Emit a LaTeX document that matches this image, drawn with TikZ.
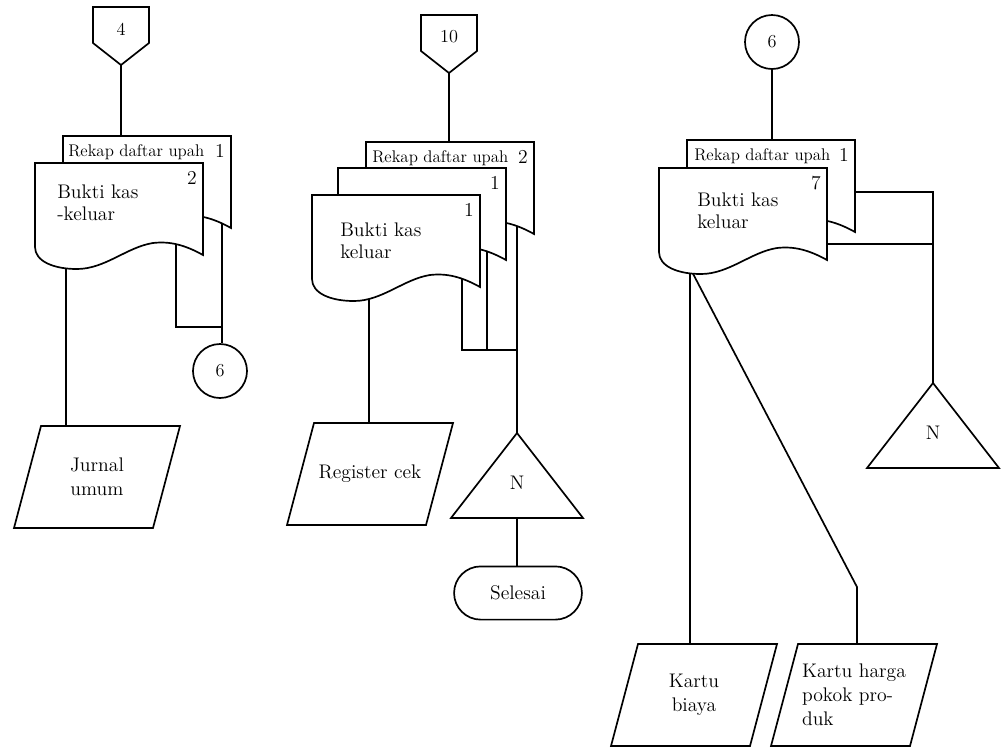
\documentclass[tikz,border=0pt]{standalone}
\usepackage{fontspec}
\usetikzlibrary{shapes.misc,backgrounds,calc}

\begin{document}
\begin{tikzpicture}[x=0.025cm, y=-0.025cm, line width=1.2pt,
    teks/.style={font=\fontsize{14}{16}\selectfont, inner sep=1pt, align=left},
    rekap/.style={font=\fontsize{12}{14}\selectfont, inner sep=1pt},
    konektor/.style={draw, circle, minimum size=1.35cm, inner sep=0pt, font=\fontsize{13}{15}\selectfont},
    terminal/.style={draw, rounded rectangle, minimum width=3.43cm, minimum height=1.33cm,
        font=\fontsize{14}{17}\selectfont},
    alur/.style={draw, line width=1.2pt},
    pics/dok/.style args={#1/#2/#3}{code={
        \draw[fill=white] (0,0) coordinate (-nw) -- (168,0) coordinate (-ne) -- (168,92)
            .. controls (150,82) and (135,78) .. (118,80)
            .. controls (92,84) and (70,106) .. (42,106)
            .. controls (18,106) and (0,98) .. (0,84) -- cycle;
        \node[teks] (-no) at (157,15) {#1};
        \coordinate (-out) at (#2,100);
        \coordinate (-kanan) at (#3,78);
    }},
    pics/jajar/.style 2 args={code={
        \draw (-56,-51) -- (83,-51) -- (56,51) -- (-83,51) -- cycle;
        \coordinate (-atas) at (0,-51);
        \node[font=\fontsize{14}{17}\selectfont, align=#1] (-teks) at (0,0) {#2};
    }},
    pics/offpage/.style={code={
        \draw (-28,0) -- (28,0) -- (28,36) -- (0,58) coordinate (-bawah) -- (-28,36) -- cycle;
        \node[font=\fontsize{13}{15}\selectfont] (-teks) at (0,22) {#1};
    }},
    pics/segitiga/.style={code={
        \draw[fill=white] (0,0) coordinate (-atas) -- (66,85) -- (-66,85) -- cycle;
        \coordinate (-bawah) at (0,85);
        \node[font=\fontsize{14}{16}\selectfont] (-teks) at (0,50) {N};
    }}
]
\useasboundingbox (0,0) rectangle (1005,752);

% Kolom kiri
\pic (kon4) at (121,7) {offpage=4};
\pic (kl1) at (63,136) {dok=1/0/159};
\node[rekap, anchor=west] (rekap1) at ($(kl1-nw)+(3,16)$) {Rekap daftar upah};
\pic (kl2) at (35,163) {dok=2/31/141};
\node[teks, anchor=west] (bukti1) at ($(kl2-nw)+(20,40)$) {Bukti kas\\-keluar};
\pic (jurnal) at (97,477) {jajar={center}{Jurnal\\umum}};
\node[konektor] (sam6) at (220,371) {6};

% Kolom tengah
\pic (kon10) at (449,15) {offpage=10};
\pic (km1) at (366,142) {dok=2/0/151};
\node[rekap, anchor=west] (rekap2) at ($(km1-nw)+(4,16)$) {Rekap daftar upah};
\pic (km2) at (338,168) {dok=1/0/149};
\pic (km3) at (312,195) {dok=1/57/150};
\node[teks, anchor=west] (bukti2) at ($(km3-nw)+(26,46)$) {Bukti kas\\keluar};
\pic (register) at (370,474) {jajar={center}{Register cek}};
\pic (segN1) at (517,433) {segitiga};
\node[terminal] (selesai) at (518,593) {Selesai};

% Kolom kanan
\node[konektor] (sam6b) at (772,42) {6};
\pic (kr1) at (687,140) {dok=1/0/0};
\node[rekap, anchor=west] (rekap3) at ($(kr1-nw)+(5,16)$) {Rekap daftar upah};
\pic (kr2) at (659,168) {dok=7/31/0};
\node[teks, anchor=west] (bukti3) at ($(kr2-nw)+(36,43)$) {Bukti kas\\keluar};
\pic (segN2) at (933,383) {segitiga};
\pic (biaya) at (694,695) {jajar={center}{Kartu\\biaya}};
\pic (hpp) at (854,695) {jajar={left}{Kartu harga\\pokok pro-\\duk}};

% titik bantu
\coordinate (gl) at (0,327);
\coordinate (gm) at (0,350);
\coordinate (tk) at (857,587);

% Garis alir
\begin{scope}[on background layer]
\draw[alur] (kon4-bawah) -- (kon4-bawah |- kl1-nw);
\draw[alur] (kl2-out) -- (kl2-out |- jurnal-atas);
\draw[alur] (kl1-kanan) -- (kl1-kanan |- sam6.north);
\draw[alur] (kl2-kanan) |- (kl1-kanan |- gl);

\draw[alur] (kon10-bawah) -- (kon10-bawah |- km1-nw);
\draw[alur] (km3-out) -- (km3-out |- register-atas);
\draw[alur] (km1-kanan) -- (segN1-atas);
\draw[alur] (km2-kanan) |- (km1-kanan |- gm);
\draw[alur] (km3-kanan) |- (km1-kanan |- gm);
\draw[alur] (segN1-bawah) -- (segN1-bawah |- selesai.north);

\draw[alur] (sam6b) -- (sam6b |- kr1-nw);
\draw[alur] ($(kr1-ne)+(0,52)$) -| (segN2-atas);
\draw[alur] ($(kr2-ne)+(0,76)$) -| (segN2-atas);
\draw[alur] (kr2-out) -- (kr2-out |- biaya-atas);
\draw[alur] (kr2-out) -- (tk) -- (tk |- hpp-atas);
\end{scope}

\end{tikzpicture}
\end{document}
